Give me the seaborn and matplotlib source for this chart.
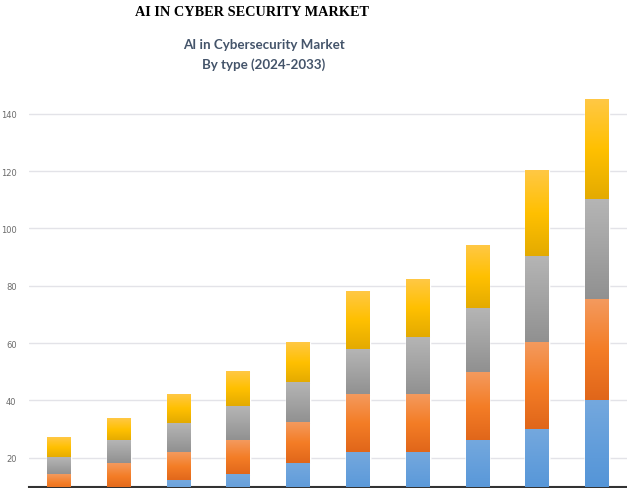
import numpy as np
import pandas as pd
import matplotlib
matplotlib.use("Agg")
import matplotlib.pyplot as plt
from matplotlib.colors import LinearSegmentedColormap
import seaborn as sns

# ==============================================================================
# DATA (segment sizes, stacked bottom -> top)
# ==============================================================================
years = ["2024", "2025", "2026", "2027", "2028", "2029", "2030", "2031", "2032", "2033"]
blue = [8, 9, 12, 14, 18, 22, 22, 26, 30, 40]
orange = [6, 9, 10, 12, 14, 20, 20, 24, 30, 35]
gray = [6, 8, 10, 12, 14, 16, 20, 22, 30, 35]
yellow = [7, 8, 10, 12, 14, 20, 20, 22, 30, 35]

y_ticks = [20, 40, 60, 80, 100, 120, 140]

# gradient per series: top, middle, bottom
gradientes = {
    "blue": ["#74A8DE", "#5E9BDA", "#4B8FD5"],
    "orange": ["#F39A5E", "#F47D26", "#E0661A"],
    "gray": ["#B5B5B5", "#A3A3A3", "#909090"],
    "yellow": ["#FFC845", "#FFC000", "#E3AA00"],
}

series = [("blue", blue), ("orange", orange), ("gray", gray), ("yellow", yellow)]

# cumulative tops
cum = np.cumsum(np.array([s for _, s in series]), axis=0)
lows = np.vstack([np.zeros(len(years)), cum[:-1]])

df = pd.DataFrame({"year": years})

# ==============================================================================
# PLOT
# ==============================================================================
sns.set_style("white")
fig = plt.figure(figsize=(6.27, 4.89), dpi=100)
ax = fig.add_axes([29 / 627, 1 / 489, 1 - 29 / 627, 1 - 86 / 489 - 1 / 489])

# draw the cumulative totals from tallest to shortest (classic seaborn stack trick)
for i in range(len(series) - 1, -1, -1):
    nombre, _ = series[i]
    df["tot"] = cum[i]
    sns.barplot(data=df, x="year", y="tot", color=gradientes[nombre][1],
                width=0.4, saturation=1, ax=ax, zorder=2)

# overlay vertical gradients on each visible segment
grad = np.linspace(0, 1, 256).reshape(-1, 1)
for k, cont in enumerate(ax.containers):
    i = len(series) - 1 - k
    nombre, _ = series[i]
    cmap = LinearSegmentedColormap.from_list(nombre, gradientes[nombre][::-1])
    for j, bar in enumerate(cont.patches):
        x0 = bar.get_x()
        w = bar.get_width()
        ax.imshow(grad, cmap=cmap, origin="lower", aspect="auto",
                  extent=[x0, x0 + w, lows[i][j], cum[i][j]], zorder=3 + k * 0.01,
                  interpolation="bicubic")

ax.set_xlim(-0.5, 9.5)
ax.set_ylim(9.8, 150)
ax.set_yticks(y_ticks)
ax.set_yticklabels([str(t) for t in y_ticks], fontsize=6, color="#6B6B6B")
ax.tick_params(axis="y", length=0, pad=9)
ax.set_xticks([])
ax.set_xlabel("")
ax.set_ylabel("")
ax.grid(axis="y", color="#E3E3E8", lw=1, zorder=0)
ax.set_axisbelow(True)
for lado in ["top", "right", "left"]:
    ax.spines[lado].set_visible(False)
ax.spines["bottom"].set_color("#333333")
ax.spines["bottom"].set_linewidth(1.5)

# titles
fig.text(252 / 627, 1 - 12 / 489, "AI IN CYBER SECURITY MARKET", ha="center", va="center",
         fontsize=10.3, fontweight="bold", family="Liberation Serif", color="black")
fig.text(264 / 627, 1 - 45 / 489, "AI in Cybersecurity Market", ha="center", va="center",
         fontsize=9.6, fontweight="bold", family="Lato", color="#44546A")
fig.text(264 / 627, 1 - 65 / 489, "By type (2024-2033)", ha="center", va="center",
         fontsize=9.6, fontweight="bold", family="Lato", color="#44546A")

plt.savefig("out.png", dpi=100)
plt.close()
